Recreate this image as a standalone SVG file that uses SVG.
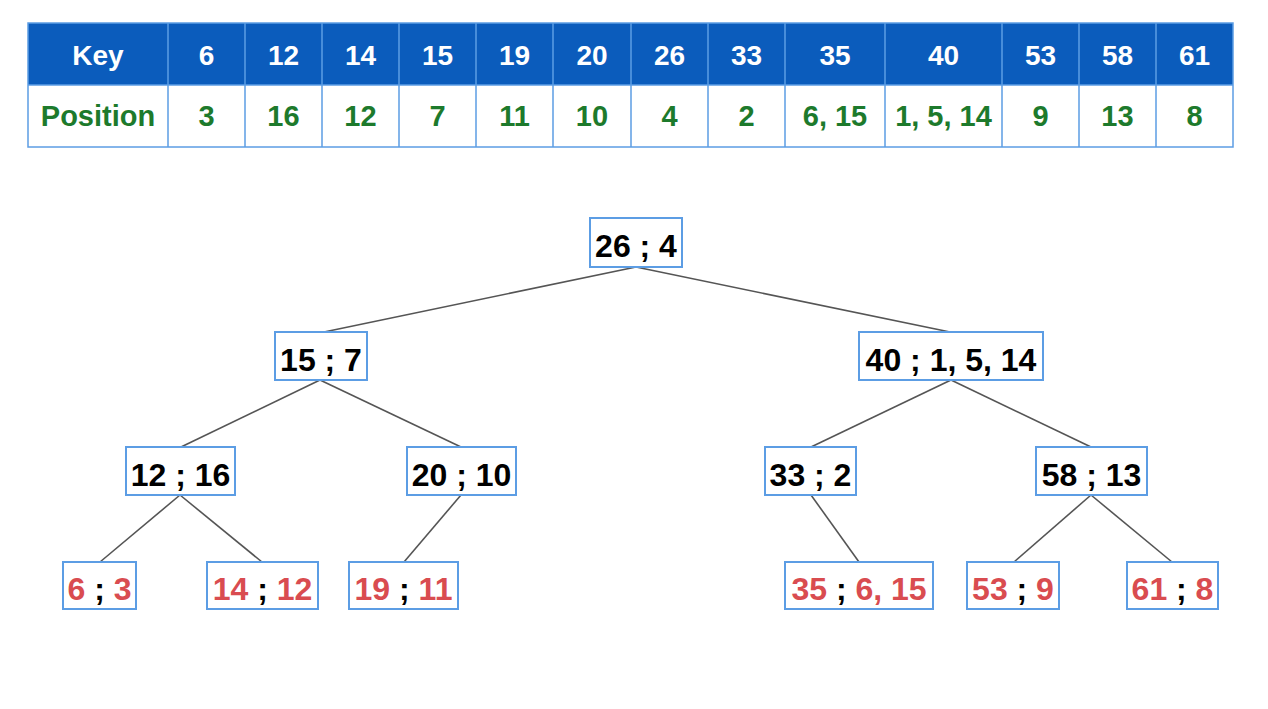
<svg xmlns="http://www.w3.org/2000/svg" width="1268" height="709" viewBox="0 0 1268 709">
<style>
.hd{fill:#0b5cbc}
.grid{stroke:#5c9de4;stroke-width:1.5;fill:none}
.th{font-family:"Liberation Sans",Arial,sans-serif;font-weight:bold;font-size:28px;fill:#fff;text-anchor:middle}
.td{font-family:"Liberation Sans",Arial,sans-serif;font-weight:bold;font-size:29px;fill:#1d7a2c;text-anchor:middle}
.box{fill:#fff;stroke:#5c9de4;stroke-width:2}
.nt{font-family:"Liberation Sans",Arial,sans-serif;font-weight:bold;font-size:32px;fill:#000;text-anchor:middle}
.r{fill:#d94c50}
.edge{stroke:#555;stroke-width:1.6;fill:none}
</style>
<rect width="1268" height="709" fill="#fff"/>
<g id="table">
<rect class="hd" x="28" y="23" width="1205" height="62"/>
<rect class="grid" x="28" y="23" width="1205" height="124"/>
<line class="grid" x1="28" y1="85" x2="1233" y2="85"/>
<path class="grid" d="M168 23V147M245 23V147M322 23V147M399 23V147M476 23V147M553 23V147M631 23V147M708 23V147M785 23V147M885 23V147M1002 23V147M1079 23V147M1156 23V147"/>
<text class="th" x="98" y="65">Key</text>
<text class="th" x="206.5" y="65">6</text>
<text class="th" x="283.5" y="65">12</text>
<text class="th" x="360.5" y="65">14</text>
<text class="th" x="437.5" y="65">15</text>
<text class="th" x="514.5" y="65">19</text>
<text class="th" x="592" y="65">20</text>
<text class="th" x="669.5" y="65">26</text>
<text class="th" x="746.5" y="65">33</text>
<text class="th" x="835" y="65">35</text>
<text class="th" x="943.5" y="65">40</text>
<text class="th" x="1040.5" y="65">53</text>
<text class="th" x="1117.5" y="65">58</text>
<text class="th" x="1194.5" y="65">61</text>
<text class="td" x="98" y="126">Position</text>
<text class="td" x="206.5" y="126">3</text>
<text class="td" x="283.5" y="126">16</text>
<text class="td" x="360.5" y="126">12</text>
<text class="td" x="437.5" y="126">7</text>
<text class="td" x="514.5" y="126">11</text>
<text class="td" x="592" y="126">10</text>
<text class="td" x="669.5" y="126">4</text>
<text class="td" x="746.5" y="126">2</text>
<text class="td" x="835" y="126">6, 15</text>
<text class="td" x="943.5" y="126">1, 5, 14</text>
<text class="td" x="1040.5" y="126">9</text>
<text class="td" x="1117.5" y="126">13</text>
<text class="td" x="1194.5" y="126">8</text>
</g>
<g id="connectors">
<line class="edge" x1="636" y1="267" x2="324" y2="332"/>
<line class="edge" x1="636" y1="267" x2="950" y2="332"/>
<line class="edge" x1="320" y1="380" x2="181" y2="447"/>
<line class="edge" x1="320" y1="380" x2="461" y2="447"/>
<line class="edge" x1="951" y1="380" x2="811" y2="447"/>
<line class="edge" x1="951" y1="380" x2="1091" y2="447"/>
<line class="edge" x1="180" y1="495" x2="100" y2="562"/>
<line class="edge" x1="180" y1="495" x2="262" y2="562"/>
<line class="edge" x1="461" y1="495" x2="404" y2="562"/>
<line class="edge" x1="811" y1="495" x2="859" y2="562"/>
<line class="edge" x1="1091" y1="495" x2="1014" y2="562"/>
<line class="edge" x1="1091" y1="495" x2="1172" y2="562"/>
</g>
<g id="n26"><rect class="box" x="590" y="218" width="92" height="49"/><text class="nt" x="636" y="257">26 ; 4</text></g>
<g id="n15"><rect class="box" x="275" y="332" width="92" height="48"/><text class="nt" x="321" y="371">15 ; 7</text></g>
<g id="n40"><rect class="box" x="859" y="332" width="184" height="48"/><text class="nt" x="951" y="371">40 ; 1, 5, 14</text></g>
<g id="n12"><rect class="box" x="126" y="447" width="109" height="48"/><text class="nt" x="180.5" y="486">12 ; 16</text></g>
<g id="n20"><rect class="box" x="407" y="447" width="109" height="48"/><text class="nt" x="461.5" y="486">20 ; 10</text></g>
<g id="n33"><rect class="box" x="765" y="447" width="91" height="48"/><text class="nt" x="810.5" y="486">33 ; 2</text></g>
<g id="n58"><rect class="box" x="1036" y="447" width="111" height="48"/><text class="nt" x="1091.5" y="486">58 ; 13</text></g>
<g id="n6"><rect class="box" x="63" y="562" width="73" height="47"/><text class="nt" x="99.5" y="600"><tspan class="r">6</tspan> ; <tspan class="r">3</tspan></text></g>
<g id="n14"><rect class="box" x="207" y="562" width="111" height="47"/><text class="nt" x="262.5" y="600"><tspan class="r">14</tspan> ; <tspan class="r">12</tspan></text></g>
<g id="n19"><rect class="box" x="349" y="562" width="109" height="47"/><text class="nt" x="403.5" y="600"><tspan class="r">19</tspan> ; <tspan class="r">11</tspan></text></g>
<g id="n35"><rect class="box" x="785" y="562" width="148" height="47"/><text class="nt" x="859" y="600"><tspan class="r">35</tspan> ; <tspan class="r">6, 15</tspan></text></g>
<g id="n53"><rect class="box" x="967" y="562" width="92" height="47"/><text class="nt" x="1013" y="600"><tspan class="r">53</tspan> ; <tspan class="r">9</tspan></text></g>
<g id="n61"><rect class="box" x="1127" y="562" width="91" height="47"/><text class="nt" x="1172.5" y="600"><tspan class="r">61</tspan> ; <tspan class="r">8</tspan></text></g>
</svg>
